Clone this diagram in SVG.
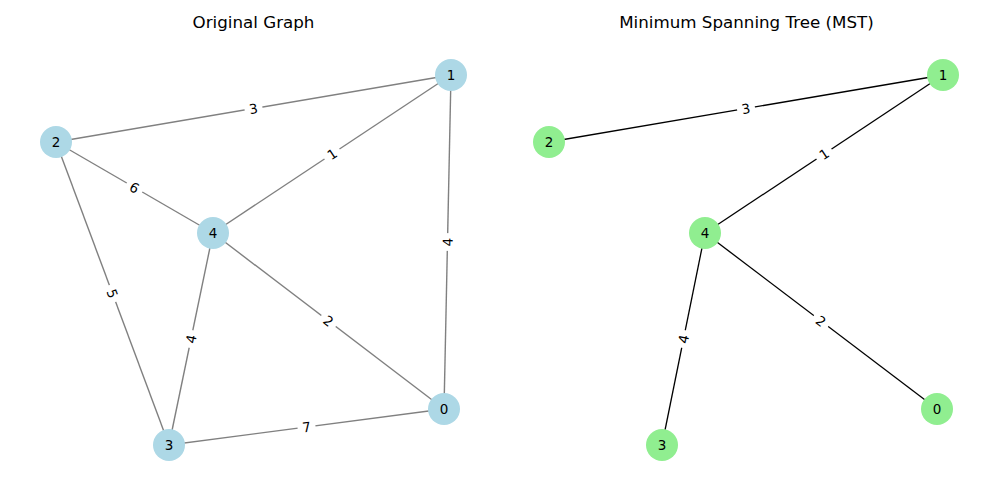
<svg xmlns="http://www.w3.org/2000/svg" width="1000" height="500" viewBox="0 0 1000 500">
<style>
.title{font-family:"DejaVu Sans",sans-serif;font-size:16.7px;fill:#000;text-anchor:middle}
.nl{font-family:"DejaVu Sans",sans-serif;font-size:13.5px;fill:#000;text-anchor:middle}
.el{font-family:"DejaVu Sans",sans-serif;font-size:13.5px;fill:#000;text-anchor:middle}
.eg line{stroke:#808080;stroke-width:1.4}
.ek line{stroke:#000;stroke-width:1.3}
.blue circle{fill:#ADD8E6}
.green circle{fill:#90EE90}
.lb rect{fill:#fff}
</style>
<rect width="1000" height="500" fill="#fff"/>
<text class="title" x="253.5" y="28">Original Graph</text>
<text class="title" x="746.5" y="28">Minimum Spanning Tree (MST)</text>
<g id="connectors-left" class="eg">
<line x1="56" y1="142" x2="451" y2="75"/>
<line x1="56" y1="142" x2="213" y2="233"/>
<line x1="56" y1="142" x2="169" y2="445"/>
<line x1="213" y1="233" x2="451" y2="75"/>
<line x1="213" y1="233" x2="169" y2="445"/>
<line x1="213" y1="233" x2="444" y2="409"/>
<line x1="451" y1="75" x2="444" y2="409"/>
<line x1="169" y1="445" x2="444" y2="409"/>
</g>
<g id="connectors-right" class="ek">
<line x1="549" y1="142" x2="943" y2="75"/>
<line x1="705" y1="233" x2="943" y2="75"/>
<line x1="705" y1="233" x2="662" y2="445"/>
<line x1="705" y1="233" x2="937" y2="409"/>
</g>
<g id="edge-labels" class="lb">
<g transform="translate(253.5,108.5) rotate(-9.6)"><rect x="-9" y="-10" width="18" height="20" rx="4"/><text class="el" y="5">3</text></g>
<g transform="translate(134.5,187.5) rotate(30.1)"><rect x="-9" y="-10" width="18" height="20" rx="4"/><text class="el" y="5">6</text></g>
<g transform="translate(112.5,293.5) rotate(69.5)"><rect x="-9" y="-10" width="18" height="20" rx="4"/><text class="el" y="5">5</text></g>
<g transform="translate(332,154) rotate(-33.6)"><rect x="-9" y="-10" width="18" height="20" rx="4"/><text class="el" y="5">1</text></g>
<g transform="translate(191,339) rotate(-78.3)"><rect x="-9" y="-10" width="18" height="20" rx="4"/><text class="el" y="5">4</text></g>
<g transform="translate(328.5,321) rotate(37.3)"><rect x="-9" y="-10" width="18" height="20" rx="4"/><text class="el" y="5">2</text></g>
<g transform="translate(447.5,242) rotate(-88.8)"><rect x="-9" y="-10" width="18" height="20" rx="4"/><text class="el" y="5">4</text></g>
<g transform="translate(306.5,427) rotate(-7.5)"><rect x="-9" y="-10" width="18" height="20" rx="4"/><text class="el" y="5">7</text></g>
<g transform="translate(746,108.5) rotate(-9.7)"><rect x="-9" y="-10" width="18" height="20" rx="4"/><text class="el" y="5">3</text></g>
<g transform="translate(824,154) rotate(-33.6)"><rect x="-9" y="-10" width="18" height="20" rx="4"/><text class="el" y="5">1</text></g>
<g transform="translate(683.5,339) rotate(-78.5)"><rect x="-9" y="-10" width="18" height="20" rx="4"/><text class="el" y="5">4</text></g>
<g transform="translate(821,321) rotate(37.2)"><rect x="-9" y="-10" width="18" height="20" rx="4"/><text class="el" y="5">2</text></g>
</g>
<g id="L0" class="blue"><circle cx="444" cy="409" r="16"/><text class="nl" x="444" y="414">0</text></g>
<g id="L1" class="blue"><circle cx="451" cy="75" r="16"/><text class="nl" x="451" y="80">1</text></g>
<g id="L2" class="blue"><circle cx="56" cy="142" r="16"/><text class="nl" x="56" y="147">2</text></g>
<g id="L3" class="blue"><circle cx="169" cy="445" r="16"/><text class="nl" x="169" y="450">3</text></g>
<g id="L4" class="blue"><circle cx="213" cy="233" r="16"/><text class="nl" x="213" y="238">4</text></g>
<g id="R0" class="green"><circle cx="937" cy="409" r="16"/><text class="nl" x="937" y="414">0</text></g>
<g id="R1" class="green"><circle cx="943" cy="75" r="16"/><text class="nl" x="943" y="80">1</text></g>
<g id="R2" class="green"><circle cx="549" cy="142" r="16"/><text class="nl" x="549" y="147">2</text></g>
<g id="R3" class="green"><circle cx="662" cy="445" r="16"/><text class="nl" x="662" y="450">3</text></g>
<g id="R4" class="green"><circle cx="705" cy="233" r="16"/><text class="nl" x="705" y="238">4</text></g>
</svg>
